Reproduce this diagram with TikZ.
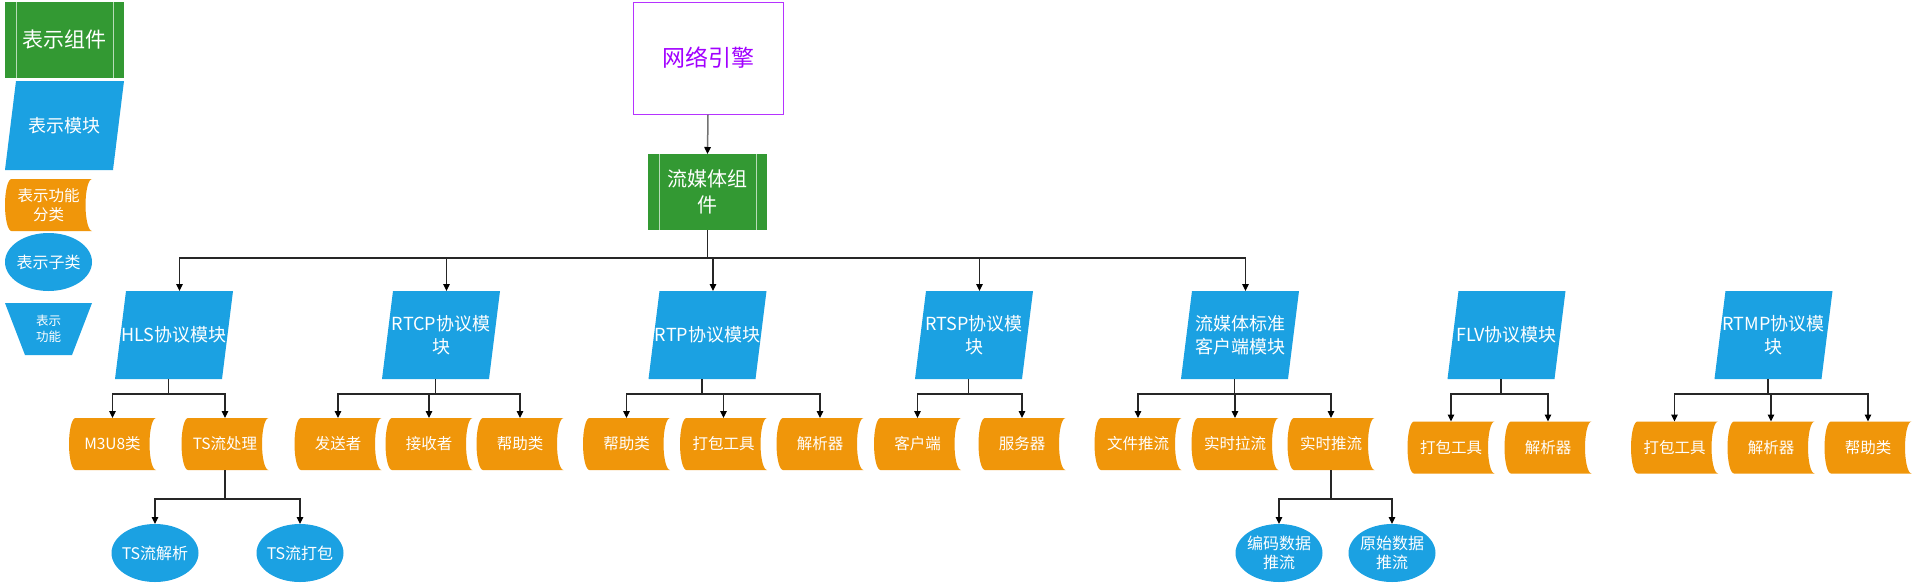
\documentclass[tikz,border=0pt]{standalone}
\usepackage{fontspec}
\setmainfont{Noto Sans CJK SC}
\usetikzlibrary{shapes.geometric,arrows.meta,calc}
\definecolor{mblue}{HTML}{1BA1E2}
\definecolor{morange}{HTML}{F0960A}
\definecolor{mgreen}{HTML}{339933}
\definecolor{mpurple}{HTML}{A200FF}
\definecolor{lnk}{HTML}{262626}
\tikzset{
  base/.style={inner sep=0pt, outer sep=0pt, text=white, align=center},
  para/.style={base, minimum width=118pt, minimum height=88pt,
    font=\fontsize{18pt}{23pt}\selectfont,
    path picture={\fill[mblue] ([xshift=11pt]path picture bounding box.north west)
      -- (path picture bounding box.north east)
      -- ([xshift=-11pt]path picture bounding box.south east)
      -- (path picture bounding box.south west) -- cycle;}},
  proc/.style={base, fill=mgreen, minimum width=119pt, minimum height=76pt,
    path picture={\draw[white!65!mgreen, line width=1pt]
      ([xshift=11pt]path picture bounding box.north west) -- ([xshift=11pt]path picture bounding box.south west)
      ([xshift=-11pt]path picture bounding box.north east) -- ([xshift=-11pt]path picture bounding box.south east);}},
  func/.style={base, minimum width=87pt, minimum height=52pt,
    font=\fontsize{15.5pt}{18.5pt}\selectfont,
    path picture={\fill[morange] ([xshift=6.5pt]path picture bounding box.north west)
      -- (path picture bounding box.north east)
      arc[start angle=90, end angle=270, x radius=6.5pt, y radius=26pt]
      -- ([xshift=6.5pt]path picture bounding box.south west)
      arc[start angle=270, end angle=90, x radius=6.5pt, y radius=26pt] -- cycle;}},
  ell/.style={base, minimum width=87pt, minimum height=58pt,
    font=\fontsize{16pt}{19pt}\selectfont,
    path picture={\fill[mblue] (path picture bounding box.center)
      ellipse[x radius=43.5pt, y radius=29pt];}},
  trap/.style={base, minimum width=87pt, minimum height=52pt,
    font=\fontsize{12.5pt}{16pt}\selectfont,
    path picture={\fill[mblue] (path picture bounding box.north west)
      -- (path picture bounding box.north east)
      -- ([xshift=-20pt]path picture bounding box.south east)
      -- ([xshift=20pt]path picture bounding box.south west) -- cycle;}},
  netbox/.style={inner sep=0pt, draw=mpurple!80!white, line width=1pt, fill=white,
    minimum width=150pt, minimum height=112pt, text=mpurple,
    font=\fontsize{23pt}{28pt}\selectfont},
  conn/.style={draw=lnk, line width=1.2pt, -{Triangle[width=6.5pt,length=7pt,color=black]}},
  topconn/.style={draw=black!55, line width=1.5pt, -{Triangle[width=6.5pt,length=7pt,color=black]}}
}
\begin{document}
\begin{tikzpicture}[x=1pt, y=-1pt]
\useasboundingbox[fill=white] (0,0) rectangle (1917,584);
% legend
\node[proc, font=\fontsize{21pt}{26pt}\selectfont] (lgcmp) at (64.5,40) {表示组件};
\node[para, minimum width=119pt, minimum height=89pt] (lgmod) at (64.5,125.5) {表示模块};
\node[func] (lgfunc) at (48.5,205) {表示功能\\分类};
\node[ell] (lgsub) at (48.5,262) {表示子类};
\node[trap] (lgfn) at (48.5,329) {表示\\功能};
% top
\node[netbox] (net) at (708,58) {网络引擎};
\node[proc, font=\fontsize{20pt}{26pt}\selectfont] (cmp) at (707.5,192) {流媒体组\\件};
% modules
\node[para] (hls)  at (174,335)    {HLS协议模块};
\node[para] (rtcp) at (441,335)    {RTCP协议模\\块};
\node[para] (rtp)  at (707.5,335)  {RTP协议模块};
\node[para] (rtsp) at (974,335)    {RTSP协议模\\块};
\node[para] (std)  at (1240,335)   {流媒体标准\\客户端模块};
\node[para] (flv)  at (1506.5,335) {FLV协议模块};
\node[para] (rtmp) at (1773.5,335) {RTMP协议模\\块};
% function categories
\node[func] (m3u8)  at (112.5,444) {M3U8类};
\node[func] (tsp)   at (225,444)   {TS流处理};
\node[func] (snd)   at (338,444)   {发送者};
\node[func] (rcv)   at (429,444)   {接收者};
\node[func] (rtcph) at (520,444)   {帮助类};
\node[func] (rtph)  at (626.5,444) {帮助类};
\node[func] (rtpp)  at (723.5,444) {打包工具};
\node[func] (rtpd)  at (820,444)   {解析器};
\node[func] (cli)   at (917.5,444) {客户端};
\node[func] (srv)   at (1022,444)  {服务器};
\node[func] (fpush) at (1138,444)  {文件推流};
\node[func] (rpull) at (1235,444)  {实时拉流};
\node[func] (rpush) at (1331,444)  {实时推流};
\node[func] (flvp)  at (1451,447.5)  {打包工具};
\node[func] (flvd)  at (1548,447.5)  {解析器};
\node[func] (rtmpp) at (1674.5,447.5) {打包工具};
\node[func] (rtmpd) at (1771,447.5)  {解析器};
\node[func] (rtmph) at (1868,447.5)  {帮助类};
% subclasses
\node[ell] (tsparse) at (155,553)  {TS流解析};
\node[ell] (tspack)  at (300,553)  {TS流打包};
\node[ell] (enc)     at (1279,553) {编码数据\\推流};
\node[ell] (raw)     at (1392,553) {原始数据\\推流};
% connectors
\draw[topconn] (net.south) -- (cmp.north);
\foreach \m in {hls,rtcp,rtp,rtsp,std}
  \draw[conn] (cmp.south) -- ++(0,28) -| ([xshift=5.5pt]\m.north);
\foreach \c in {m3u8,tsp}
  \draw[conn] ([xshift=-5.5pt]hls.south) -- ++(0,15) -| (\c.north);
\foreach \c in {snd,rcv,rtcph}
  \draw[conn] ([xshift=-5.5pt]rtcp.south) -- ++(0,15) -| (\c.north);
\foreach \c in {rtph,rtpp,rtpd}
  \draw[conn] ([xshift=-5.5pt]rtp.south) -- ++(0,15) -| (\c.north);
\foreach \c in {cli,srv}
  \draw[conn] ([xshift=-5.5pt]rtsp.south) -- ++(0,15) -| (\c.north);
\foreach \c in {fpush,rpull,rpush}
  \draw[conn] ([xshift=-5.5pt]std.south) -- ++(0,15) -| (\c.north);
\foreach \c in {flvp,flvd}
  \draw[conn] ([xshift=-5.5pt]flv.south) -- ++(0,15) -| (\c.north);
\foreach \c in {rtmpp,rtmpd,rtmph}
  \draw[conn] ([xshift=-5.5pt]rtmp.south) -- ++(0,15) -| (\c.north);
\foreach \c in {tsparse,tspack}
  \draw[conn] (tsp.south) -- ++(0,29) -| (\c.north);
\foreach \c in {enc,raw}
  \draw[conn] (rpush.south) -- ++(0,29) -| (\c.north);
\end{tikzpicture}
\end{document}
